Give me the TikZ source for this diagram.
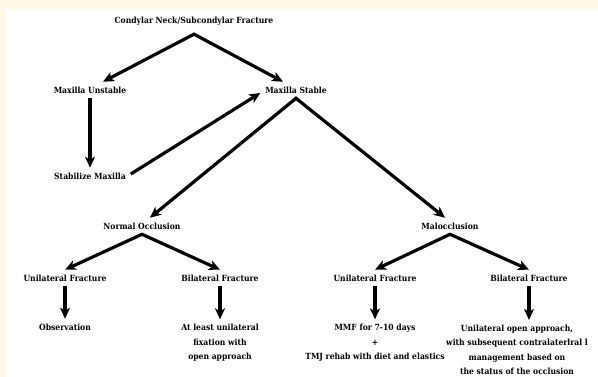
\documentclass[tikz,border=0pt]{standalone}
\usepackage{fontspec}
\setmainfont{DejaVu Serif Condensed}
\usetikzlibrary{arrows.meta}
\definecolor{paper}{RGB}{253,249,230}

\begin{document}
\begin{tikzpicture}[x=1pt,y=-1pt,
	>={Stealth[length=11pt,width=10pt,inset=3pt]},
	entry/.style={font=\bfseries\fontsize{8.5}{14.5}\selectfont, align=center, inner sep=2pt, outer sep=3pt},
	link/.style={->, line width=3.2pt},
	fork/.style={<->, line width=3.2pt, line join=miter}]
	\fill[paper] (0,0) rectangle (598,377);
	\fill[white] (6,9) rectangle (598,377);
	\useasboundingbox (0,0) rectangle (598,377);
	\node[entry] (C) at (194,21) {Condylar Neck/Subcondylar Fracture};
	\node[entry] (MU) at (90,90) {Maxilla Unstable};
	\node[entry] (MS) at (296,90) {Maxilla Stable};
	\node[entry] (SM) at (90,176) {Stabilize Maxilla};
	\node[entry] (NO) at (142,226) {Normal Occlusion};
	\node[entry] (MO) at (450,226) {Malocclusion};
	\node[entry] (U1) at (65,278) {Unilateral Fracture};
	\node[entry] (B1) at (220,278) {Bilateral Fracture};
	\node[entry] (U2) at (375,278) {Unilateral Fracture};
	\node[entry] (B2) at (529,278) {Bilateral Fracture};
	\node[entry] (OB) at (65,327) {Observation};
	\node[entry] (FX) at (220,343) {At least unilateral\\fixation with\\open approach};
	\node[entry] (MMF) at (375,343) {MMF for 7-10 days\\+\\TMJ rehab with diet and elastics};
	\node[entry] (OA) at (517,350) {Unilateral open approach,\\with subsequent contralaterlral l\\management based on\\the status of the occlusion};
	\draw[fork] ([xshift=13pt]MU.north) -- ([yshift=-4pt]C.south) -- ([xshift=-13pt]MS.north);
	\draw[link] (MU.south) -- (SM.north);
	\draw[link] ([yshift=2pt]SM.east) -- ([yshift=-3pt]MS.west);
	\draw[fork] ([xshift=8pt]NO.north) -- (MS.south) -- ([xshift=-5pt]MO.north);
	\draw[fork] (U1.north) -- (NO.south) -- (B1.north);
	\draw[fork] (U2.north) -- (MO.south) -- (B2.north);
	\draw[link] (U1.south) -- (OB.north);
	\draw[link] (B1.south) -- (FX.north);
	\draw[link] (U2.south) -- (MMF.north);
	\draw[link] (B2.south) -- (B2.south |- OA.north);
\end{tikzpicture}
\end{document}
